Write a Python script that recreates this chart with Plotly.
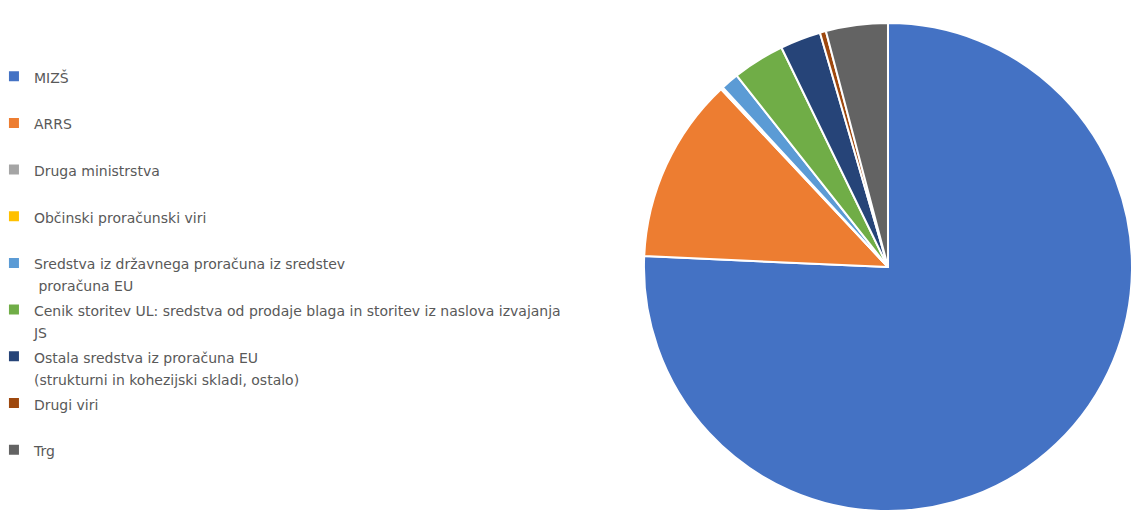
import plotly.graph_objects as go

labels = [
    "MIZŠ",
    "ARRS",
    "Druga ministrstva",
    "Občinski proračunski viri",
    "Sredstva iz državnega proračuna iz sredstev<br> proračuna EU",
    "Cenik storitev UL: sredstva od prodaje blaga in storitev iz naslova izvajanja<br>JS",
    "Ostala sredstva iz proračuna EU<br>(strukturni in kohezijski skladi, ostalo)",
    "Drugi viri",
    "Trg",
]
values = [75.8, 12.3, 0.08, 0.08, 1.2, 3.45, 2.7, 0.4, 4.1]
colors = ["#4472C4", "#ED7D31", "#A5A5A5", "#FFC000", "#5B9BD5",
          "#70AD47", "#264478", "#9E480E", "#636363"]


def legend_label(text):
    if "<br>" not in text:
        text = text + "<br>\u00a0"
    parts = text.split("<br>")
    return "<br>".join('<span style="font-size:14px">%s</span>' % p for p in parts)


fig = go.Figure(go.Pie(
    labels=[legend_label(l) for l in labels],
    values=values,
    sort=False,
    direction="clockwise",
    rotation=0,
    textinfo="none",
    hoverinfo="label+percent",
    marker=dict(colors=colors, line=dict(color="#FFFFFF", width=2)),
    domain=dict(x=[0.5658, 1.0], y=[0.0125, 0.9775]),
))

fig.update_layout(
    margin=dict(l=0, r=0, t=0, b=0, autoexpand=False),
    paper_bgcolor="#FFFFFF",
    plot_bgcolor="#FFFFFF",
    font=dict(family="DejaVu Sans", color="#595959"),
    showlegend=True,
    legend=dict(
        xref="paper",
        yref="paper",
        x=-0.0125,
        xanchor="left",
        y=0.901,
        yanchor="top",
        valign="top",
        font=dict(size=16.8, color="#595959", family="DejaVu Sans"),
        bgcolor="rgba(0,0,0,0)",
        itemclick=False,
    ),
)

fig.write_html("out.html")
